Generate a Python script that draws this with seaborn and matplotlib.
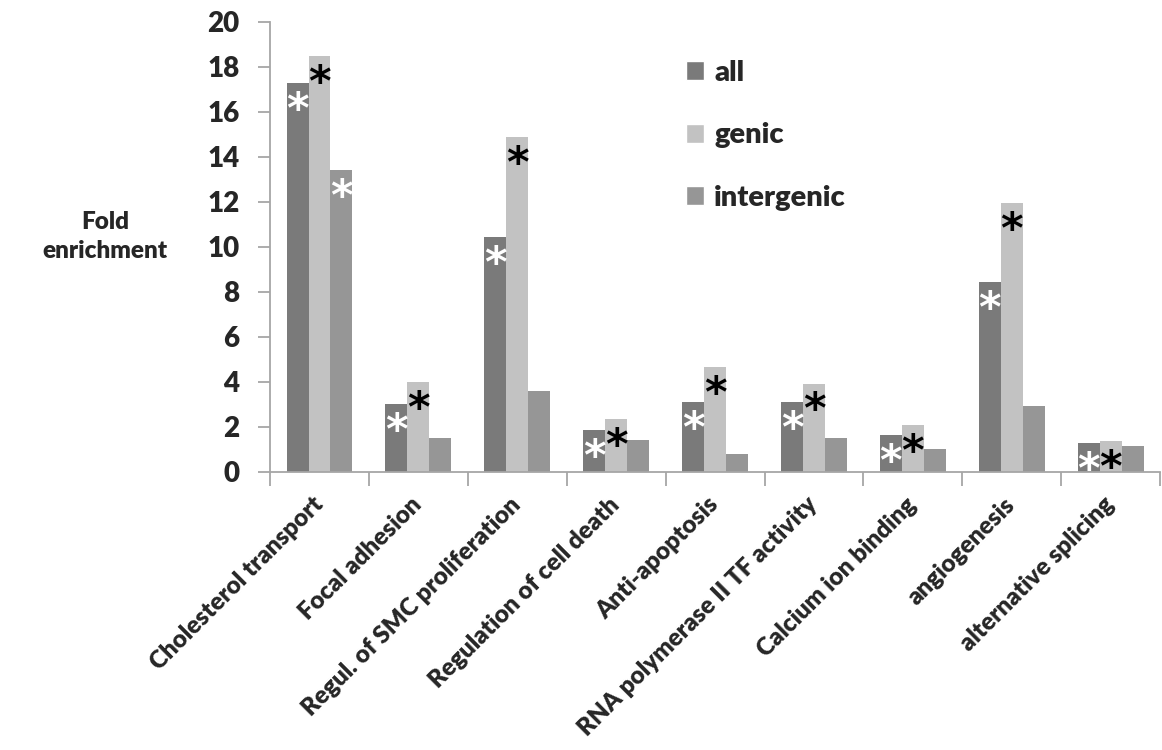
import numpy as np
import pandas as pd
import matplotlib.pyplot as plt
from matplotlib.patches import Patch
import seaborn as sns

# values
categories = ["Cholesterol transport", "Focal adhesion", "Regul. of SMC proliferation",
              "Regulation of cell death", "Anti-apoptosis", "RNA polymerase II TF activity",
              "Calcium ion binding", "angiogenesis", "alternative splicing"]
series = ["all", "genic", "intergenic"]
all_vals = [17.3, 3.0, 10.45, 1.87, 3.1, 3.1, 1.65, 8.45, 1.28]
genic_vals = [18.5, 4.0, 14.9, 2.35, 4.65, 3.93, 2.07, 11.95, 1.39]
intergenic_vals = [13.4, 1.5, 3.6, 1.43, 0.8, 1.52, 1.0, 2.95, 1.17]

# significance asterisks per series
all_star = [True, True, True, True, True, True, True, True, True]
genic_star = [True, True, True, True, True, True, True, True, True]
intergenic_star = [True, False, False, False, False, False, False, False, False]

colors = {"all": "#7a7a7a", "genic": "#c2c2c2", "intergenic": "#969696"}
star_colors = ["white", "black", "white"]
axis_grey = "#a6a6a6"
W = "heavy"

df = pd.DataFrame({
    "category": categories * 3,
    "value": all_vals + genic_vals + intergenic_vals,
    "series": np.repeat(series, len(categories)),
})

sns.set_theme(style="white")
plt.rcParams["font.family"] = ["Lato", "DejaVu Sans"]
plt.rcParams["font.weight"] = W

fig = plt.figure(figsize=(11.62, 7.5), dpi=100)
ax = fig.add_axes([0.2324, 0.3707, 0.766, 0.6])

sns.barplot(data=df, x="category", y="value", hue="series", order=categories,
            hue_order=series, palette=colors, width=0.667, saturation=1,
            linewidth=0, legend=False, ax=ax)

ax.set_xlim(-0.5, len(categories) - 0.5)
ax.set_ylim(0, 20)
ax.set_yticks(range(0, 21, 2))
ax.set_xlabel("")
ax.set_ylabel("")

for s in ["top", "right"]:
    ax.spines[s].set_visible(False)
for s in ["left", "bottom"]:
    ax.spines[s].set_color(axis_grey)
    ax.spines[s].set_linewidth(1.3)

ax.tick_params(axis="y", left=True, length=9, width=1.3, color=axis_grey,
               direction="out", pad=13, labelsize=20)
ax.set_xticks(range(len(categories)))
ax.set_xticks(np.arange(-0.5, len(categories), 1), minor=True)
ax.tick_params(axis="x", which="major", bottom=True, length=0, pad=21)
ax.tick_params(axis="x", which="minor", bottom=True, length=10, width=1.3,
               color=axis_grey, direction="out")
ax.set_xticklabels(categories, rotation=45, ha="right", va="center",
                   rotation_mode="anchor", fontsize=17.5, fontweight=W)
for lab in ax.get_yticklabels():
    lab.set_fontweight(W)

# asterisks marking significance
flags = [all_star, genic_star, intergenic_star]
for cont, fl, sc in zip(ax.containers, flags, star_colors):
    for bar, f in zip(cont, fl):
        if f:
            ax.annotate("*", (bar.get_x() + bar.get_width() / 2, bar.get_height()),
                        xytext=(0, -5), textcoords="offset points", ha="center",
                        va="top", fontsize=31, fontweight="bold", color=sc,
                        family="DejaVu Sans")

fig.text(0.0904, 0.685, "Fold\nenrichment", ha="center", va="center",
         fontsize=17.5, fontweight=W, linespacing=1.4)

handles = [Patch(facecolor=colors[s], label=s) for s in series]
ax.legend(handles=handles, loc="upper left", bbox_to_anchor=(0.5904, 0.92),
          bbox_transform=fig.transFigure, frameon=False, fontsize=21,
          handlelength=0.62, handleheight=0.62, handletextpad=0.35,
          labelspacing=1.25, borderaxespad=0, borderpad=0)
for t in ax.get_legend().get_texts():
    t.set_fontweight(W)

fig.savefig("out.png", dpi=100)
